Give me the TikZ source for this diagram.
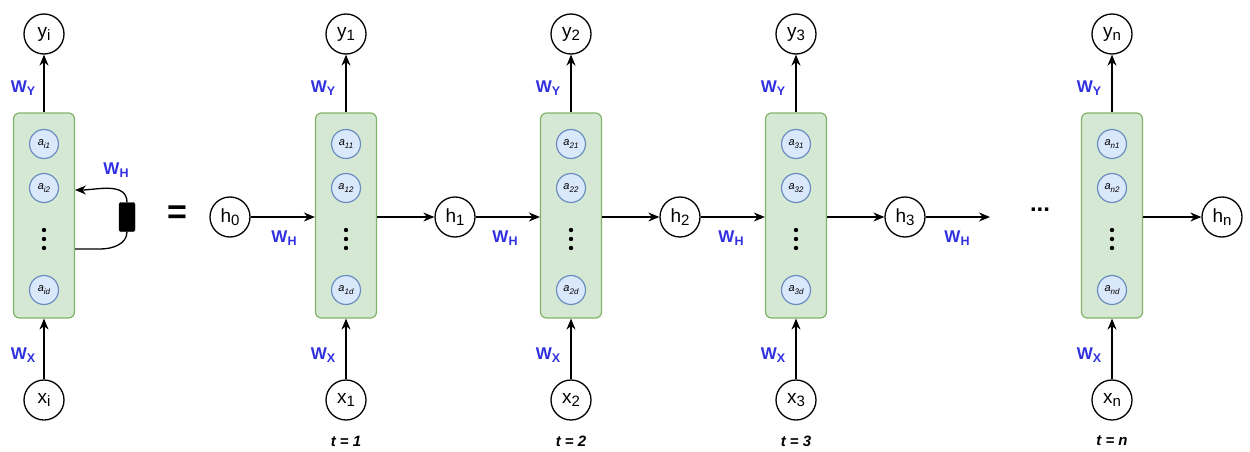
\documentclass[tikz,border=0pt]{standalone}
\usepackage{fontspec}
\setmainfont{Liberation Sans}
\usetikzlibrary{arrows.meta}
\definecolor{boxfill}{HTML}{D5E8D4}
\definecolor{boxline}{HTML}{82B366}
\definecolor{cfill}{HTML}{DAE8FC}
\definecolor{cline}{HTML}{6C8EBF}
\definecolor{wblue}{HTML}{3030E0}
\newcommand\sbs[1]{\raisebox{-0.3ex}{\fontsize{15}{16}\selectfont #1}}
\newcommand\wsub[1]{\raisebox{-0.4ex}{\fontsize{12.5}{13}\selectfont #1}}
\newcommand\isub[1]{\raisebox{-0.4ex}{\fontsize{8}{9}\selectfont #1}}
\begin{document}
\begin{tikzpicture}[x=1pt,y=-1pt,
 var/.style={circle,draw,line width=1.3pt,minimum size=40pt,inner sep=0pt,font=\fontsize{19}{21}\selectfont},
 cell/.style={draw=boxline,fill=boxfill,line width=1.2pt,rounded corners=6pt,minimum width=61pt,minimum height=205pt,inner sep=0pt},
 unit/.style={circle,draw=cline,fill=cfill,line width=1.2pt,minimum size=29pt,inner sep=0pt,font=\fontsize{11}{12}\selectfont\itshape},
 wlab/.style={text=wblue,font=\fontsize{17}{19}\selectfont\bfseries},
 arr/.style={line width=1.3pt,-{Stealth[length=11pt,width=9pt]}},
 plain/.style={line width=1.3pt},
 tlab/.style={font=\fontsize{15}{17}\selectfont\bfseries\itshape}]
\useasboundingbox (0,0) rectangle (1250,452);

% ---------- folded unit ----------
\node[cell] (c0) at (44,215.5) {};
\node[unit] (a01) at (44,144) {a\isub{i1}};
\node[unit] (a02) at (44,188) {a\isub{i2}};
\node[unit] (a0d) at (44,290) {a\isub{id}};
\foreach \d in {230,239,248} \fill (44,\d) circle (2.2pt);
\node[var] (y0) at (44,34) {y\sbs{i}};
\node[var] (x0) at (44,400) {x\sbs{i}};
\draw[arr] (c0.north) -- (y0);
\draw[arr] (x0) -- (c0.south);
\node[wlab] (wy0) at (23,88) {W\wsub{Y}};
\node[wlab] (wx0) at (23,355) {W\wsub{X}};
\node[draw,fill=black,rounded corners=2pt,minimum width=16pt,minimum height=29pt,inner sep=0pt] (delay) at (127,217) {};
\coordinate (fbo) at (75,249);
\coordinate (fbi) at (75,190);
\draw[plain] (fbo) -- (100,249) to[out=0,in=-90] (delay.south);
\draw[arr] (delay.north) to[out=90,in=0] (fbi);
\node[wlab] (wh0) at (116,170) {W\wsub{H}};
\node (eq) at (177,215) {\fontsize{34}{36}\selectfont\bfseries =};

% ---------- unrolled units ----------
\foreach \x/\s/\n in {346/1/1,571/2/2,796/3/3,1112/n/n} {
  \node[cell] (c\n) at (\x,215.5) {};
  \node[unit] (a\n1) at (\x,144) {a\isub{\s1}};
  \node[unit] (a\n2) at (\x,188) {a\isub{\s2}};
  \node[unit] (a\n d) at (\x,290) {a\isub{\s d}};
  \foreach \d in {230,239,248} \fill (\x,\d) circle (2.2pt);
  \node[var] (y\n) at (\x,34) {y\sbs{\s}};
  \node[var] (x\n) at (\x,400) {x\sbs{\s}};
  \draw[arr] (c\n.north) -- (y\n);
  \draw[arr] (x\n) -- (c\n.south);
  \node[wlab] (wy\n) at (\x-23,88) {W\wsub{Y}};
  \node[wlab] (wx\n) at (\x-23,355) {W\wsub{X}};
  \node[tlab] (t\n) at (\x,441) {t = \s};
}

% hidden states
\node[var] (h0) at (230,217) {h\sbs{0}};
\node[var] (h1) at (455,217) {h\sbs{1}};
\node[var] (h2) at (680,217) {h\sbs{2}};
\node[var] (h3) at (905,217) {h\sbs{3}};
\node[var] (hn) at (1222,217) {h\sbs{n}};
\coordinate (h3end) at (990,217);
\node (dots) at (1040,210) {\fontsize{24}{26}\selectfont\bfseries ...};

\draw[arr] (h0) -- (c1.west|-h0);
\draw[arr] (c1.east|-h1) -- (h1);
\draw[arr] (h1) -- (c2.west|-h1);
\draw[arr] (c2.east|-h2) -- (h2);
\draw[arr] (h2) -- (c3.west|-h2);
\draw[arr] (c3.east|-h3) -- (h3);
\draw[arr] (h3) -- (h3end);
\draw[arr] (cn.east|-hn) -- (hn);

\node[wlab] (wh1) at (284,238) {W\wsub{H}};
\node[wlab] (wh2) at (505,238) {W\wsub{H}};
\node[wlab] (wh3) at (731,238) {W\wsub{H}};
\node[wlab] (wh4) at (957,238) {W\wsub{H}};
\end{tikzpicture}
\end{document}
